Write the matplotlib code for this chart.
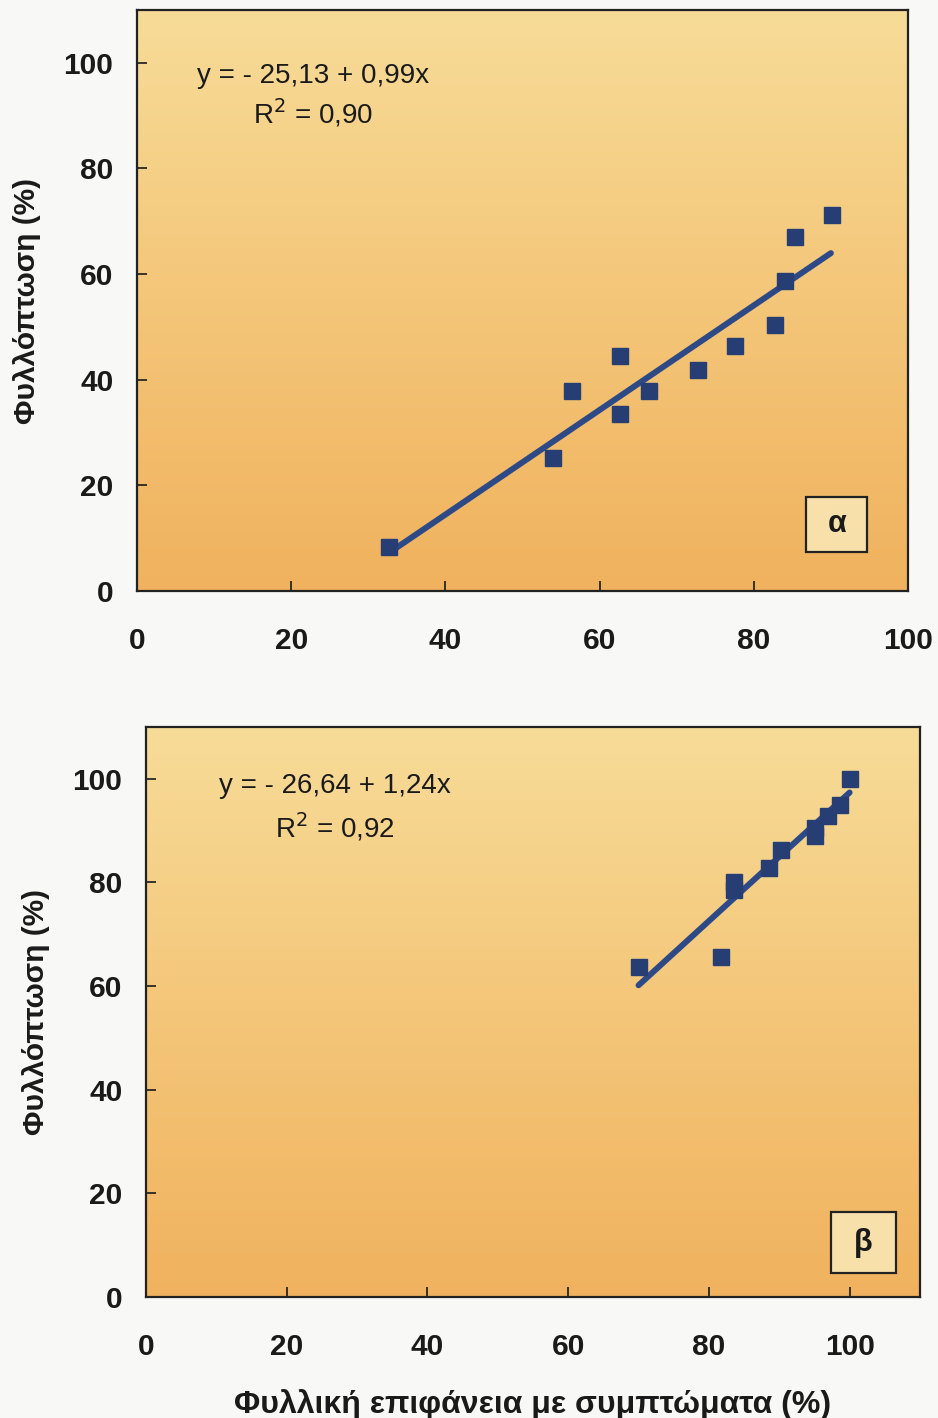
import matplotlib
matplotlib.use("Agg")
import matplotlib.pyplot as plt
import numpy as np
from matplotlib.colors import LinearSegmentedColormap
from matplotlib.patches import Rectangle

# ---- data ----
xa = [32.7, 53.9, 56.4, 62.6, 62.6, 66.4, 72.8, 77.6, 82.7, 84.1, 85.3, 90.2]
ya = [8.3, 25.2, 37.8, 44.4, 33.6, 37.8, 41.9, 46.3, 50.3, 58.6, 67.0, 71.2]
fit_a = (-25.13, 0.99)
range_a = (33, 90)

xb = [70.0, 81.7, 83.6, 83.6, 88.6, 90.3, 95.1, 95.1, 96.9, 98.6, 100.0]
yb = [63.6, 65.7, 80.0, 78.5, 82.7, 86.3, 90.5, 89.0, 92.9, 95.0, 100.0]
fit_b = (-26.64, 1.24)
range_b = (70, 100)

ticks = [0, 20, 40, 60, 80, 100]
eq_a = ["y = - 25,13 + 0,99x", "R$^2$ = 0,90"]
eq_b = ["y = - 26,64 + 1,24x", "R$^2$ = 0,92"]
ylabel = "Φυλλόπτωση (%)"
xlabel = "Φυλλική επιφάνεια με συμπτώματα (%)"

plt.rcParams['font.family'] = ['Liberation Sans', 'DejaVu Sans']

fig = plt.figure(figsize=(9.38, 14.18), dpi=100, facecolor='#F8F8F6')

cmap = LinearSegmentedColormap.from_list('bg', ['#F0B25E', '#F4C679', '#F7DC98'])
grad = np.linspace(0, 1, 256).reshape(-1, 1)

MARK = '#263E74'
LINE = '#2E4A86'


def panel(rect, x, y, fit, rng, xmax, eq, eq_pos, eq_gap, box_label, box_rect):
    ax = fig.add_axes(rect)
    ax.imshow(grad, extent=[0, 1, 0, 1], transform=ax.transAxes, aspect='auto',
              cmap=cmap, origin='lower', zorder=0)
    xs = np.array(rng)
    ax.plot(xs, fit[0] + fit[1] * xs, color=LINE, lw=4.3, solid_capstyle='round', zorder=2)
    ax.plot(x, y, 's', color=MARK, ms=11, zorder=3)
    ax.set_xlim(0, xmax)
    ax.set_ylim(0, 110)
    ax.set_xticks(ticks)
    ax.set_yticks(ticks)
    ax.tick_params(direction='in', length=7, width=1.2, labelsize=21.5, colors='#1a1a1a')
    ax.tick_params(axis='x', pad=26)
    ax.tick_params(axis='y', pad=17)
    for lab in ax.get_xticklabels() + ax.get_yticklabels():
        lab.set_fontweight('bold')
    for s in ax.spines.values():
        s.set_linewidth(1.6)
        s.set_color('#222222')
    ax.text(eq_pos[0], eq_pos[1], eq[0], transform=ax.transAxes, ha='center', va='center',
            fontsize=20, color='#1a1a1a')
    ax.text(eq_pos[0], eq_pos[1] - eq_gap, eq[1], transform=ax.transAxes, ha='center', va='center',
            fontsize=20, color='#1a1a1a')
    bx0, by0, bx1, by1 = box_rect
    ax.add_patch(Rectangle((bx0, by0), bx1 - bx0, by1 - by0, transform=ax.transAxes,
                           fc='#F7E0AA', ec='#222222', lw=1.6, zorder=4))
    ax.text((bx0 + bx1) / 2, (by0 + by1) / 2, box_label, transform=ax.transAxes,
            ha='center', va='center', fontsize=22, fontweight='bold', color='#1a1a1a', zorder=5)
    ax.set_ylabel(ylabel, fontsize=21.5, fontweight='bold', labelpad=16, color='#1a1a1a')
    return ax


ax1 = panel([137/938, 1 - 591/1418, 771/938, 581/1418], xa, ya, fit_a, range_a, 100,
            eq_a, (0.228, 0.886), 0.064, 'α', (0.868, 0.067, 0.947, 0.162))
ax2 = panel([146/938, 1 - 1297/1418, 774/938, 570/1418], xb, yb, fit_b, range_b, 110,
            eq_b, (0.244, 0.896), 0.071, 'β', (0.885, 0.042, 0.969, 0.149))
ax2.set_xlabel(xlabel, fontsize=23, fontweight='bold', labelpad=20, color='#1a1a1a')

fig.savefig('out.png', dpi=100, facecolor=fig.get_facecolor())
